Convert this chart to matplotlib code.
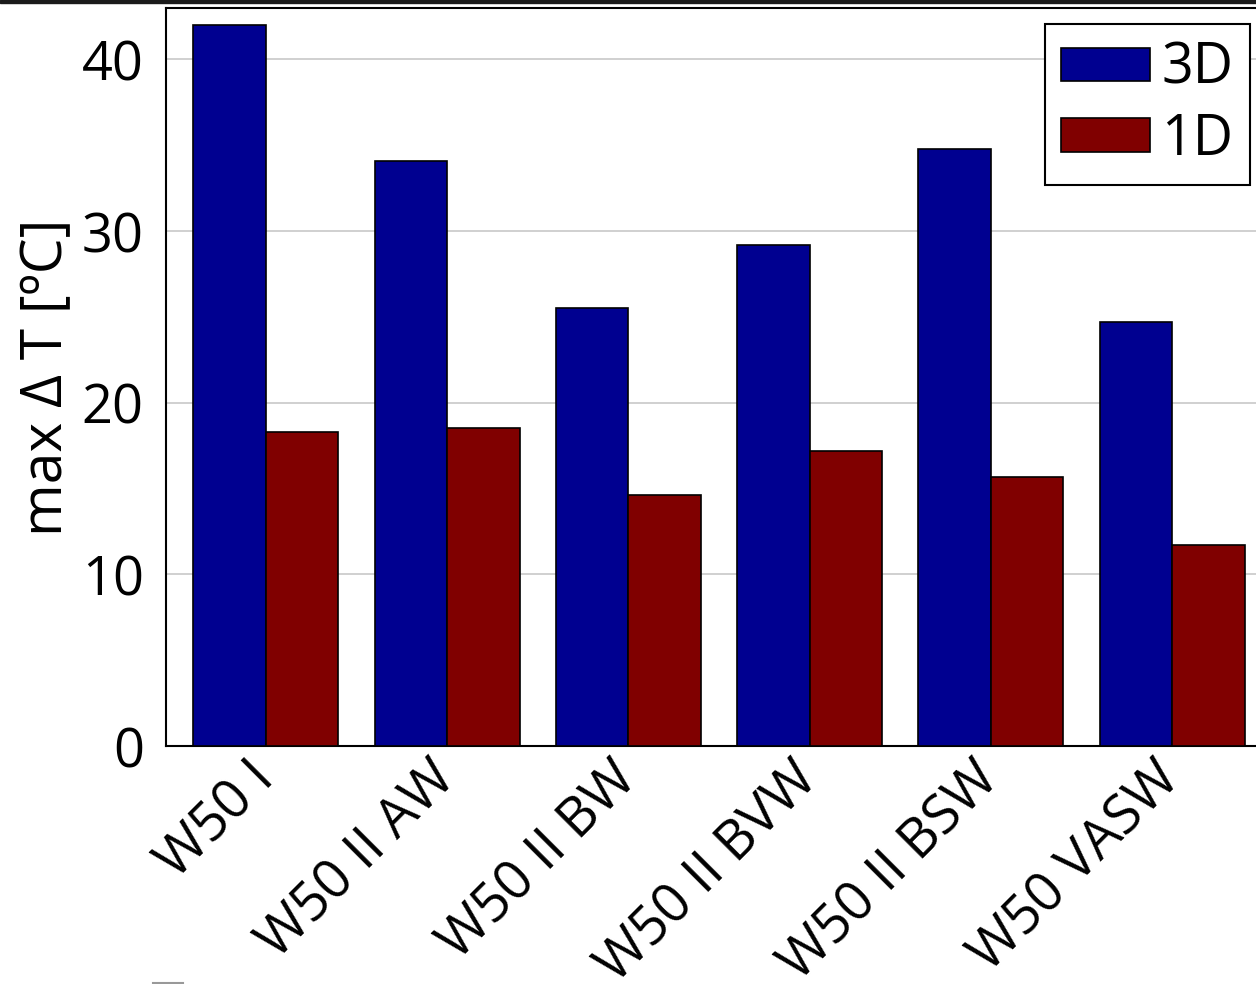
import matplotlib
matplotlib.use("Agg")
import matplotlib.pyplot as plt
import numpy as np
from matplotlib.patches import Rectangle
from matplotlib.lines import Line2D

categories = ["W50 I", "W50 II AW", "W50 II BW", "W50 II BVW", "W50 II BSW", "W50 VASW"]
vals_3d = [42.0, 34.1, 25.5, 29.2, 34.8, 24.7]
vals_1d = [18.3, 18.5, 14.6, 17.2, 15.7, 11.7]
series_labels = ["3D", "1D"]
yticks = [0, 10, 20, 30, 40]

plt.rcParams['font.family'] = ['Open Sans', 'DejaVu Sans']
W, H = 1256, 984
fig = plt.figure(figsize=(W / 100, H / 100), dpi=100)
ax = fig.add_axes([166 / W, (H - 746) / H, 1106 / W, 738 / H])

x = np.arange(len(categories))
bw = 0.4
ax.bar(x - bw / 2, vals_3d, bw, color='#000090', edgecolor='black', linewidth=1.2,
       label=series_labels[0], zorder=3)
ax.bar(x + bw / 2, vals_1d, bw, color='#800000', edgecolor='black', linewidth=1.2,
       label=series_labels[1], zorder=3)

fs = 39
ax.set_xlim(-0.55, len(categories) - 0.45)
ax.set_ylim(0, 43)
ax.set_yticks(yticks)
ax.yaxis.grid(True, color='#c8c8c8', linewidth=1.2, zorder=0)
ax.set_axisbelow(True)
ax.set_xticks(x)
ax.set_xticklabels(categories, rotation=45, ha='right', va='center',
                   rotation_mode='anchor', fontsize=fs)
ax.tick_params(axis='both', length=0, labelsize=fs)
ax.tick_params(axis='x', pad=18)
ax.tick_params(axis='y', pad=16)
for s in ax.spines.values():
    s.set_linewidth(1.5)
    s.set_color('black')
ax.set_ylabel("max \u0394 T [\u00baC]", fontsize=fs + 2, labelpad=4)

leg = ax.legend(loc='upper right', bbox_to_anchor=(0.980, 0.978), borderaxespad=0,
                fontsize=fs + 1, fancybox=False, edgecolor='black', framealpha=1,
                handlelength=1.6, handleheight=0.55, handletextpad=0.2,
                labelspacing=0.25, borderpad=0.3)
leg.get_frame().set_linewidth(1.5)

fig.add_artist(Rectangle((0, 1 - 2.5 / H), 1, 2.5 / H, transform=fig.transFigure,
                         color='#1a1a1a', zorder=10))
fig.add_artist(Line2D([153 / W, 183 / W], [1.2 / H, 1.2 / H], transform=fig.transFigure,
                      color='#999999', linewidth=1.5))

fig.savefig("out.png", dpi=100)
